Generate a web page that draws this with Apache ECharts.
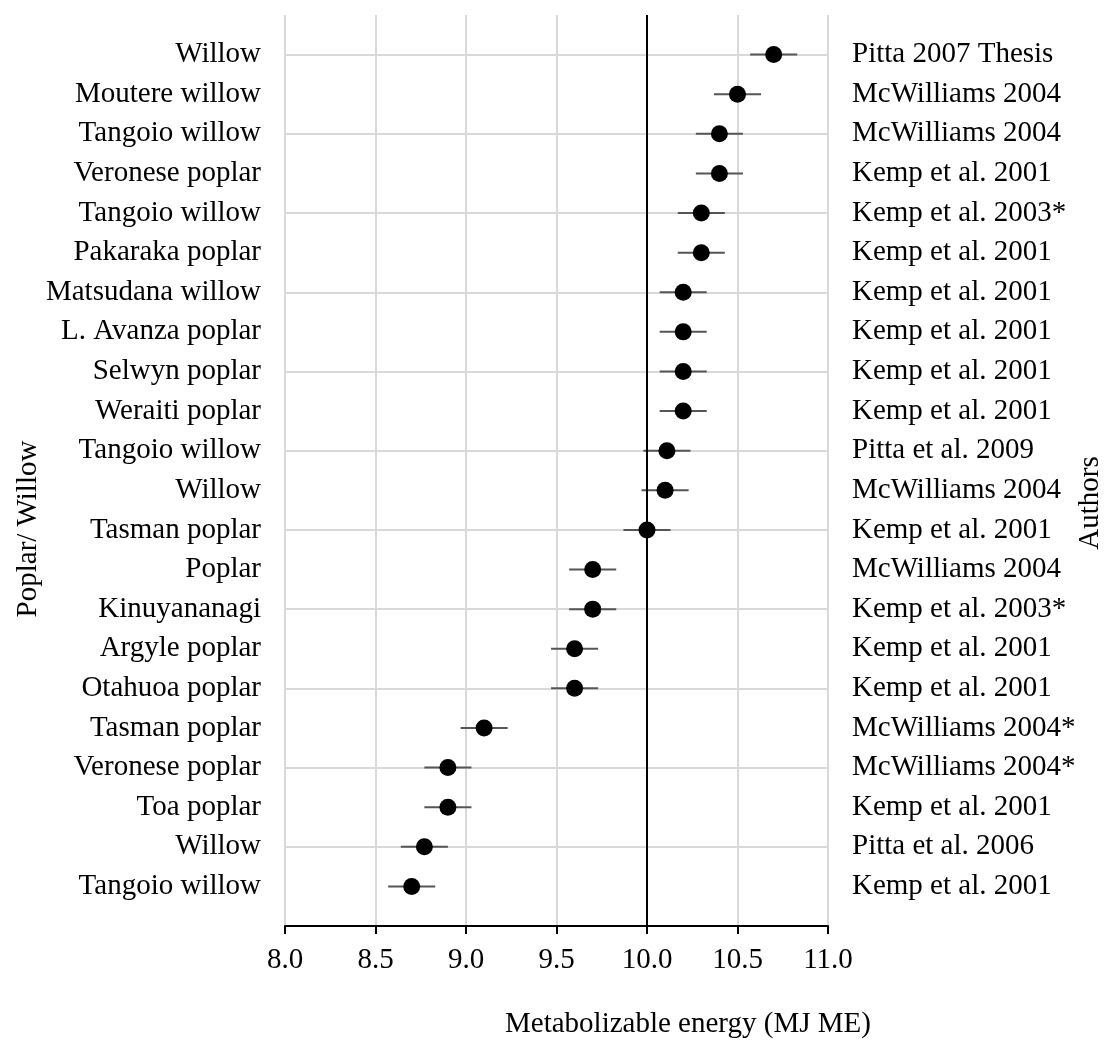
<!DOCTYPE html>
<html>
<head>
<meta charset="utf-8">
<script src="https://cdn.jsdelivr.net/npm/echarts@6/dist/echarts.min.js"></script>
<style>
html,body{margin:0;padding:0;background:#fff;}
#chart{width:1109px;height:1043px;}
</style>
</head>
<body>
<div id="chart"></div>
<script>
// Rows listed top to bottom
var varieties = ["Willow","Moutere willow","Tangoio willow","Veronese poplar","Tangoio willow","Pakaraka poplar","Matsudana willow","L. Avanza poplar","Selwyn poplar","Weraiti poplar","Tangoio willow","Willow","Tasman poplar","Poplar","Kinuyananagi","Argyle poplar","Otahuoa poplar","Tasman poplar","Veronese poplar","Toa poplar","Willow","Tangoio willow"];
var authors = ["Pitta 2007 Thesis","McWilliams 2004","McWilliams 2004","Kemp et al. 2001","Kemp et al. 2003*","Kemp et al. 2001","Kemp et al. 2001","Kemp et al. 2001","Kemp et al. 2001","Kemp et al. 2001","Pitta et al. 2009","McWilliams 2004","Kemp et al. 2001","McWilliams 2004","Kemp et al. 2003*","Kemp et al. 2001","Kemp et al. 2001","McWilliams 2004*","McWilliams 2004*","Kemp et al. 2001","Pitta et al. 2006","Kemp et al. 2001"];
var energy = [10.7,10.5,10.4,10.4,10.3,10.3,10.2,10.2,10.2,10.2,10.11,10.1,10.0,9.7,9.7,9.6,9.6,9.1,8.9,8.9,8.77,8.7];
var errors = [0.13,0.13,0.13,0.13,0.13,0.13,0.13,0.13,0.13,0.13,0.13,0.13,0.13,0.13,0.13,0.13,0.13,0.13,0.13,0.13,0.13,0.13];
var xTicks = [8.0,8.5,9.0,9.5,10.0,10.5,11.0];
var referenceLine = 10.0;
var xTitle = "Metabolizable energy (MJ ME)";
var leftTitle = "Poplar/ Willow";
var rightTitle = "Authors";

var n = varieties.length;
var FONT = '"Liberation Serif", "Times New Roman", serif';
var FS = 29;

var points = energy.map(function(v, i){ return [v, n - i]; });
var bars = energy.map(function(v, i){ return [v, n - i, errors[i]]; });

function labelFor(arr){
  return function(v){
    var idx = n - Math.round(v);
    if (v >= 1 && v <= n && Math.abs(v - Math.round(v)) < 1e-6) return arr[idx];
    return '';
  };
}

var chart = echarts.init(document.getElementById('chart'), null, {renderer:'canvas'});
var option = {
  animation: false,
  backgroundColor: '#ffffff',
  grid: {left: 285, right: 281, top: 15, bottom: 117, containLabel: false},
  xAxis: {
    type: 'value', min: xTicks[0], max: xTicks[xTicks.length-1], interval: 0.5,
    axisLine: {show: true, lineStyle: {color: '#000', width: 2}},
    axisTick: {show: true, length: 8, lineStyle: {color: '#000', width: 2}},
    axisLabel: {color: '#000', fontFamily: FONT, fontSize: FS, margin: 20,
      formatter: function(v){ return v.toFixed(1); }},
    splitLine: {show: true, lineStyle: {color: '#d9d9d9', width: 2}}
  },
  yAxis: [
    {
      type: 'value', min: 0, max: n + 1, interval: 1, position: 'left',
      axisLine: {show: false}, axisTick: {show: false}, splitLine: {show: false},
      axisLabel: {color: '#000', fontFamily: FONT, fontSize: FS, margin: 24, formatter: labelFor(varieties)}
    },
    {
      type: 'value', min: 0, max: n + 1, interval: 1, position: 'right',
      axisLine: {show: false}, axisTick: {show: false}, splitLine: {show: false},
      axisLabel: {color: '#000', fontFamily: FONT, fontSize: FS, margin: 24, align: 'left', formatter: labelFor(authors)}
    },
    {
      type: 'value', min: 0, max: n + 1, interval: 2, position: 'left',
      axisLine: {show: false}, axisTick: {show: false}, axisLabel: {show: false},
      splitLine: {show: true, showMinLine: false, showMaxLine: false, lineStyle: {color: '#d9d9d9', width: 2}}
    }
  ],
  series: [
    {
      type: 'custom', yAxisIndex: 0, z: 3,
      data: bars,
      renderItem: function(params, api){
        var v = api.value(0), y = api.value(1), e = api.value(2);
        var p1 = api.coord([v - e, y]);
        var p2 = api.coord([v + e, y]);
        return {type: 'line', shape: {x1: p1[0], y1: p1[1], x2: p2[0], y2: p2[1]},
          style: {stroke: '#555555', lineWidth: 2}};
      }
    },
    {
      type: 'scatter', yAxisIndex: 0, z: 5,
      data: points, symbol: 'circle', symbolSize: 17,
      itemStyle: {color: '#000', opacity: 1},
      emphasis: {disabled: true},
      markLine: {
        silent: true, symbol: 'none', label: {show: false},
        lineStyle: {color: '#000', width: 2, type: 'solid', opacity: 1},
        data: [{xAxis: referenceLine}]
      }
    }
  ],
  graphic: [
    {type: 'text', left: 505, top: 1010, style: {text: xTitle, font: FS + 'px ' + FONT, fill: '#000'}},
    {type: 'text', x: 14, y: 529, rotation: Math.PI/2, style: {text: leftTitle, font: FS + 'px ' + FONT, fill: '#000', align: 'center', verticalAlign: 'top'}},
    {type: 'text', x: 1076, y: 503, rotation: Math.PI/2, style: {text: rightTitle, font: FS + 'px ' + FONT, fill: '#000', align: 'center', verticalAlign: 'top'}}
  ]
};
chart.setOption(option);
</script>
</body>
</html>
